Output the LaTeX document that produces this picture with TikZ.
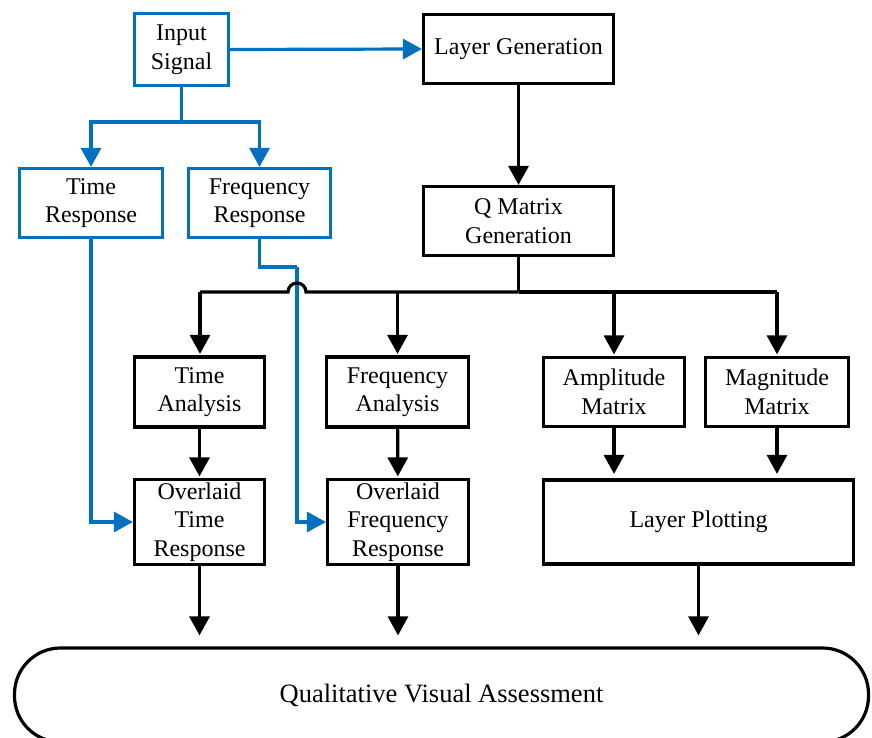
\documentclass[tikz,border=0pt]{standalone}
\usepackage{fontspec}
\setmainfont{Liberation Serif}
\usetikzlibrary{arrows.meta}
\definecolor{fblue}{HTML}{0070C0}
\tikzset{
  box/.style={draw=black, line width=3.2pt, fill=white, inner sep=0pt, align=center,
    font=\fontsize{24}{28.5}\selectfont},
  bbox/.style={box, draw=fblue},
  conn/.style={line width=3.2pt, black},
  bconn/.style={line width=3.2pt, fblue},
  tip/.style={-{Triangle[length=19pt,width=20pt]}}
}
\begin{document}
\begin{tikzpicture}[x=1pt,y=-1pt]
\useasboundingbox (0,0) rectangle (872,738);
\clip (0,0) rectangle (872,738);
% nodes
\node[bbox, minimum width=94pt, minimum height=72pt] (in) at (181.5,49.5) {Input\\Signal};
\node[box, minimum width=190pt, minimum height=69pt] (lg) at (518.5,49) {Layer Generation};
\node[bbox, minimum width=143pt, minimum height=69pt] (tr) at (91,203) {Time\\Response};
\node[bbox, minimum width=142pt, minimum height=69pt] (fr) at (259.5,203) {Frequency\\Response};
\node[box, minimum width=190pt, minimum height=69pt] (qm) at (518.5,221) {Q Matrix\\Generation};
\node[box, minimum width=130pt, minimum height=70pt] (ta) at (199.5,392) {Time\\Analysis};
\node[box, minimum width=142pt, minimum height=70pt] (fa) at (397.5,392) {Frequency\\Analysis};
\node[box, minimum width=141pt, minimum height=69pt] (am) at (614,392) {Amplitude\\Matrix};
\node[box, minimum width=143pt, minimum height=69pt] (mm) at (777,392) {Magnitude\\Matrix};
\node[box, minimum width=130pt, minimum height=85pt] (ot) at (199.5,522) {Overlaid\\Time\\Response};
\node[box, minimum width=141pt, minimum height=85pt] (of) at (398,522) {Overlaid\\Frequency\\Response};
\node[box, minimum width=310pt, minimum height=84pt] (lp) at (698.5,522) {Layer Plotting};
\node[box, rounded corners=46pt, minimum width=854pt, minimum height=94pt,
  font=\fontsize{26.5}{31}\selectfont] (qa) at (441.5,695) {Qualitative Visual Assessment};
% coordinates
\coordinate (sp) at (181.5,122);
\coordinate (jx) at (297,267);
\coordinate (bus) at (518.5,292);
\coordinate (bl) at (200,292);
\coordinate (bf) at (397.5,292);
\coordinate (ba) at (614,292);
\coordinate (br) at (777,292);
% blue connectors
\draw[bconn, tip] (in.east) -- (lg.west);
\draw[bconn] (in.south) -- (sp);
\draw[bconn, tip] (sp) -| (tr.north);
\draw[bconn, tip] (sp) -| (fr.north);
\draw[bconn, tip] (tr.south) |- (ot.west);
\draw[bconn] (fr.south) |- (jx);
\draw[bconn, tip] (jx) |- (of.west);
% black connectors
\draw[conn, tip] (lg) -- (qm);
\draw[conn] (qm.south) -- (bus);
\draw[conn] (bus) -- (306,292) arc[start angle=0, end angle=180, radius=9pt] -- (bl);
\draw[conn] (bus) -- (br);
\draw[conn, tip, shorten >=1.5pt] (bl) -- (bl |- ta.north);
\draw[conn, tip, shorten >=1.5pt] (bf) -- (bf |- fa.north);
\draw[conn, tip, shorten >=1.5pt] (ba) -- (ba |- am.north);
\draw[conn, tip, shorten >=1.5pt] (br) -- (br |- mm.north);
\draw[conn, tip, shorten >=1.5pt] (ta) -- (ot);
\draw[conn, tip, shorten >=1.5pt] (fa) -- (of);
\draw[conn, tip, shorten >=4.5pt] (am) -- (am |- lp.north);
\draw[conn, tip, shorten >=4.5pt] (mm) -- (mm |- lp.north);
\draw[conn, tip, shorten >=11pt] (ot) -- (ot |- qa.north);
\draw[conn, tip, shorten >=11pt] (of) -- (of |- qa.north);
\draw[conn, tip, shorten >=11pt] (lp) -- (lp |- qa.north);
\end{tikzpicture}
\end{document}
